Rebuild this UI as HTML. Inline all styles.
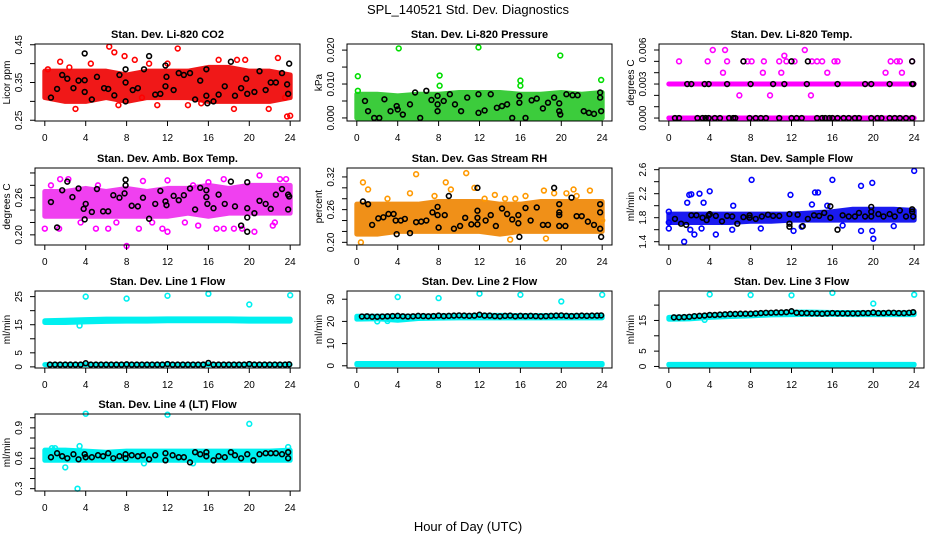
<!DOCTYPE html>
<html><head><meta charset="utf-8">
<style>
html,body{margin:0;padding:0;background:#fff;}
svg{display:block;font-family:"Liberation Sans",Arial,sans-serif;}
</style></head>
<body>
<svg id="chart" width="936" height="540" viewBox="0 0 936 540" xmlns="http://www.w3.org/2000/svg">
<rect x="0" y="0" width="936" height="540" fill="#fff"/>
<text x="468" y="14" text-anchor="middle" font-size="13">SPL_140521  Std. Dev. Diagnostics</text>
<text x="468" y="531" text-anchor="middle" font-size="13">Hour of Day (UTC)</text>
</svg>
<script>
// ---- shared data ----
const bandHours=[0,2,4,6,8,10,12,14,16,18,20,22,24];
const rowHours=[0.5,1,1.5,2,2.5,3,3.5,4,4.5,5,5.5,6,6.5,7,7.5,8,8.5,9,9.5,10,10.5,11,11.5,12,12.5,13,13.5,14,14.5,15,15.5,16,16.5,17,17.5,18,18.5,19,19.5,20,20.5,21,21.5,22,22.5,23,23.5,23.9];
const xTicks=[0,4,8,12,16,20,24];

// ---- P1 CO2 ----
const co2BandLo=[0.31,0.30,0.30,0.31,0.30,0.31,0.31,0.31,0.30,0.30,0.30,0.30,0.31];
const co2BandHi=[0.38,0.38,0.38,0.38,0.37,0.38,0.38,0.38,0.39,0.39,0.38,0.38,0.37];
const co2PtX=[1.5,3,6.3,6.8,7.2,7.8,8.8,10.2,11,13,14,15.3,17,18.5,18.8,19.6,21.9,22.8,23.5,23.7,24,0.3,2.4,9.5,12,4.5];
const co2PtY=[0.405,0.28,0.445,0.43,0.29,0.42,0.41,0.40,0.29,0.44,0.29,0.295,0.41,0.28,0.41,0.41,0.28,0.415,0.31,0.26,0.262,0.385,0.39,0.31,0.40,0.40];
const co2BkX=[0.6,1.2,1.7,2.2,2.8,3.3,3.9,3.9,3.9,4.6,5.1,5.8,6.2,6.8,7.3,7.9,7.9,7.9,8.6,9.1,9.7,10.2,10.8,11.3,11.8,11.9,11.8,12.6,13.1,13.6,14.2,14.7,15.2,15.8,15.8,15.9,16.5,17,17.6,18.2,18.6,19.2,19.7,19.8,20.5,21,21.6,22.1,22.6,23.2,23.7,23.8,23.9];
const co2BkY=[0.31,0.333,0.37,0.36,0.335,0.355,0.427,0.356,0.325,0.305,0.365,0.335,0.333,0.316,0.37,0.385,0.35,0.30,0.33,0.335,0.385,0.42,0.318,0.32,0.395,0.365,0.34,0.33,0.375,0.37,0.375,0.305,0.355,0.385,0.315,0.295,0.30,0.318,0.34,0.405,0.315,0.335,0.36,0.32,0.325,0.38,0.33,0.35,0.35,0.375,0.345,0.32,0.40];

// ---- P2 Pressure ----
const presBandLo=[0,0,0,0,0,0,0,0,0,0,0,0,0];
const presBandHi=[0.007,0.007,0.0065,0.007,0.007,0.0075,0.0075,0.0075,0.007,0.007,0.0075,0.007,0.0075];
const presPtX=[0.1,0.1,4.1,8.1,8.1,11.9,16,16,19.9,23.9];
const presPtY=[0.0123,0.008,0.0205,0.0125,0.0095,0.0208,0.011,0.0095,0.0184,0.0112];
const presBkX=[0.8,1.1,1.7,2.2,2.7,3.3,3.9,4,4.5,5.2,5.7,6.2,6.8,7.3,7.9,7.9,7.9,8.5,9.1,9.6,10.2,10.8,11.9,11.9,12.5,13.1,13.7,14.2,14.7,15.2,15.9,15.9,16.5,17.1,17.6,18.2,18.7,19.3,19.8,19.8,19.9,20.5,21.1,21.6,22.2,22.7,23.2,23.8,23.8,23.9];
const presBkY=[0.005,0.002,0,0,0.0055,0.002,0.0035,0.0025,0.001,0.004,0.0075,0,0.008,0.0053,0.0065,0.004,0.002,0.005,0.007,0.004,0.002,0.006,0.007,0.0015,0.0022,0.007,0.003,0.0035,0.004,0,0.0065,0.0045,0,0.0052,0.0057,0.0028,0.0045,0.006,0.0043,0.002,0.001,0.007,0.0067,0.0067,0.002,0.0015,0.0012,0.0075,0.006,0.002];

// ---- P3 Li-820 Temp ----
const tempBandLo=[0,0,0,0,0,0,0,0,0,0,0,0,0];
const tempBandHi=[0,0,0,0,0,0,0,0,0,0,0,0,0];
const tempBand2Lo=[0.003,0.003,0.003,0.003,0.003,0.003,0.003,0.003,0.003,0.003,0.003,0.003,0.003];
const tempBand2Hi=[0.003,0.003,0.003,0.003,0.003,0.003,0.003,0.003,0.003,0.003,0.003,0.003,0.003];
const tempPtX=[1,3.8,4.3,5.3,5.5,5.7,6.9,7.3,7.7,8.1,9.2,9.3,9.9,10.8,11,11.3,11.5,12.3,13.3,13.9,14,14.5,15,15.5,16.2,16.5,21.2,21.7,22.3,22.6,22.8,23.8];
const tempPtY=[0.005,0.005,0.006,0.004,0.006,0.005,0.002,0.005,0.005,0.005,0.004,0.005,0.002,0.005,0.004,0.0055,0.005,0.005,0.006,0.002,0.005,0.005,0.005,0.004,0.005,0.005,0.004,0.005,0.005,0.005,0.004,0.005];
const tempBkX=[1.8,2.2,3.5,3.9,5.7,8,10.2,11.3,13.5,16.5,19.2,19.8,21.6,23.8,23.9,7.3,12,13.6,23.8,0.6,1,2.8,3.3,3.6,3.9,4.5,5,5.9,6.3,6.5,7.9,8.5,9,9.5,10.8,12,12.5,13,14.5,15,15.3,15.7,16,16.5,17.1,17.6,18.2,18.6,19.8,20.4,20.8,21.6,22.1,22.6,23.2,23.8];
const tempBkY=[0.003,0.003,0.003,0.003,0.003,0.003,0.003,0.003,0.003,0.003,0.003,0.003,0.003,0.003,0.003,0.005,0.005,0.005,0.005,0,0,0,0,0,0,0,0,0,0,0,0,0,0,0,0,0,0,0,0,0,0,0,0,0,0,0,0,0,0,0,0,0,0,0,0,0];

// ---- P4 Amb Box Temp ----
const ambBandLo=[0.23,0.23,0.23,0.23,0.23,0.23,0.23,0.235,0.23,0.235,0.235,0.235,0.235];
const ambBandHi=[0.27,0.27,0.275,0.27,0.275,0.27,0.275,0.275,0.28,0.275,0.28,0.28,0.28];
const ambPtX=[0,1.5,0.6,2.3,3.5,5,5.2,6.2,7,8,9.2,9.6,10.5,11.5,12,12,13.7,14.5,15,16,16.8,17.5,17.5,18.5,19.3,20.5,21,22.3,23,23.6,22.5,1.4];
const ambPtY=[0.21,0.29,0.28,0.29,0.22,0.21,0.28,0.21,0.22,0.182,0.21,0.287,0.22,0.21,0.205,0.288,0.22,0.28,0.215,0.285,0.21,0.21,0.29,0.21,0.21,0.205,0.296,0.215,0.29,0.29,0.22,0.21];
const ambBkX=[0.6,1.2,1.7,2.2,2.7,3.3,3.8,3.9,4,4.6,5.1,5.7,6.2,6.7,7.3,7.9,7.9,7.8,8.5,9.1,9.6,10.2,10.8,11.3,11.8,11.9,12.6,13.1,13.6,14.2,14.7,15.2,15.8,15.8,15.9,16.5,17,17.6,18.2,18.6,19.2,19.8,19.8,19.8,19.8,20.5,21,21.6,22.1,22.6,23.2,23.8,23.8,23.9];
const ambBkY=[0.253,0.212,0.272,0.286,0.261,0.275,0.242,0.225,0.25,0.237,0.274,0.238,0.238,0.264,0.26,0.289,0.28,0.267,0.247,0.246,0.26,0.226,0.25,0.271,0.254,0.248,0.263,0.256,0.264,0.275,0.241,0.276,0.272,0.261,0.25,0.243,0.265,0.25,0.286,0.246,0.215,0.285,0.243,0.228,0.205,0.235,0.255,0.25,0.242,0.265,0.274,0.265,0.241,0.262];

// ---- P5 Gas Stream RH ----
const rhBandLo=[0.215,0.215,0.22,0.22,0.22,0.22,0.22,0.215,0.22,0.22,0.22,0.22,0.22];
const rhBandHi=[0.27,0.27,0.27,0.27,0.275,0.275,0.275,0.27,0.27,0.275,0.275,0.275,0.275];
const rhPtX=[0.4,0.6,1.1,3,5.2,5.8,8.7,9.2,10.7,11.5,13.5,15,15.5,16.5,18.3,18.5,19.3,20.5,21.2,22.8,24,7.6,12.5,14.5,21.5];
const rhPtY=[0.20,0.31,0.297,0.28,0.29,0.325,0.31,0.297,0.327,0.30,0.287,0.205,0.28,0.285,0.295,0.207,0.29,0.29,0.297,0.295,0.24,0.285,0.28,0.28,0.285];
const rhBkX=[0.6,1.1,1.5,2.1,2.6,3.1,3.6,3.8,3.9,4.3,4.7,5.2,5.8,6.3,6.8,7.4,7.9,7.9,8,8.6,9,9.5,10.1,10.6,11.2,11.8,11.8,11.8,11.8,12.6,13.1,13.6,14.2,14.7,15.2,15.8,15.8,15.9,16.5,17,17.6,18.2,18.7,19.3,19.8,19.8,19.8,19.8,20.4,21,21.5,22,22.6,23.2,23.8,23.8,23.8,23.9];
const rhBkY=[0.275,0.27,0.232,0.244,0.246,0.252,0.252,0.24,0.215,0.24,0.243,0.217,0.237,0.238,0.24,0.255,0.265,0.25,0.227,0.25,0.285,0.225,0.23,0.245,0.233,0.258,0.245,0.233,0.30,0.24,0.25,0.23,0.262,0.252,0.242,0.25,0.235,0.21,0.263,0.24,0.264,0.232,0.232,0.30,0.255,0.27,0.25,0.23,0.23,0.282,0.248,0.248,0.238,0.232,0.27,0.255,0.225,0.21];

// ---- P6 Sample Flow ----
const sfBandLo=[1.72,1.72,1.72,1.72,1.74,1.74,1.76,1.76,1.76,1.76,1.76,1.76,1.76];
const sfBandHi=[1.86,1.86,1.86,1.86,1.86,1.86,1.86,1.88,1.90,1.94,1.94,1.94,1.92];
const sfPtX=[0,0,0,1.5,1.8,2,2.2,2.5,2.1,3,3.4,3.2,4,4.6,6.3,6.2,8.1,9,11.9,12.2,14.3,14.6,14,15.5,16,18.8,18.8,19.9,19.9,20,22,24,13,17];
const sfPtY=[1.72,1.90,1.62,1.40,2.05,2.18,2.19,1.52,1.6,2.2,2.05,1.62,2.24,1.52,2.00,1.60,2.43,1.62,2.18,1.58,2.22,2.22,2.02,2.0,2.43,2.33,1.58,2.38,1.58,1.45,1.66,2.58,1.65,1.67];
const sfBkX=[0.6,1.2,1.7,2.2,2.7,3.3,3.7,3.9,4,4.6,5.2,5.7,6.2,6.7,7.3,7.9,7.9,8.5,9.1,9.7,10.2,10.8,11.8,11.8,11.8,12.6,13.1,13.6,14.2,14.7,15.2,15.8,15.8,16.5,17,17.6,18.2,18.6,19.2,19.8,19.8,19.8,20.5,21,21.6,22.1,22.6,23.2,23.8,23.8,23.9];
const sfBkY=[1.78,1.7,1.68,1.84,1.84,1.8,1.76,1.84,1.86,1.83,1.74,1.83,1.82,1.7,1.81,1.84,1.8,1.78,1.82,1.85,1.83,1.83,1.86,1.7,1.65,1.85,1.66,1.78,1.84,1.83,1.88,1.99,1.8,1.6,1.84,1.82,1.82,1.88,1.82,1.98,1.9,1.82,1.86,1.82,1.86,1.82,1.92,1.82,1.94,1.9,1.82];

// ---- P7 Line 1 Flow ----
const l1BandLo=[15.8,15.8,16,16.2,16.3,16.3,16.4,16.4,16.4,16.4,16.3,16.3,16.3];
const l1BandHi=[16.4,16.6,16.8,17,17,17,17.1,17.1,17.1,17.1,17,17,17];
const l1ZeroLo=[0.8,0.8,0.8,0.8,0.8,0.8,0.8,0.8,0.8,0.8,0.8,0.8,0.8];
const l1ZeroHi=[0.8,0.8,0.8,0.8,0.8,0.8,0.8,0.8,0.8,0.8,0.8,0.8,0.8];
const l1PtX=[3.4,4,8,12,16,20,24];
const l1PtY=[14.7,25,24.3,25.3,26,22.2,25.5];
const l1BkY=[0.8,0.8,0.8,0.8,0.8,0.8,0.8,1.3,0.8,0.8,0.8,0.8,0.8,0.8,0.8,0.9,0.8,0.8,0.8,0.8,0.8,0.8,0.8,1.0,0.8,0.8,0.8,0.8,0.8,0.8,0.8,1.4,0.8,0.8,0.8,0.8,0.8,0.8,0.8,1.0,0.8,0.8,0.8,0.8,0.8,0.8,0.8,0.9];

// ---- P8 Line 2 Flow ----
const l2BandLo=[21,21.2,20.5,21.3,21.5,21.6,21.6,21.6,21.6,21.6,21.6,21.6,21.6];
const l2BandHi=[22.3,22.3,22.3,22.3,22.5,22.5,22.7,22.7,22.6,22.6,22.6,22.6,22.6];
const l2ZeroLo=[0.5,0.5,0.5,0.5,0.5,0.5,0.5,0.5,0.5,0.5,0.5,0.5,0.5];
const l2ZeroHi=[1.0,1.0,1.0,1.0,1.0,1.0,1.0,1.0,1.0,1.0,1.0,1.0,1.0];
const l2PtX=[2,3,4,8,12,16,20,24];
const l2PtY=[20,20.2,31,30.5,32.5,32,29,32];
const l2BkY=[22.2,22.3,22.1,22.1,22.2,22.3,22.4,22.5,22.3,22.2,22.3,22.5,22.4,22.3,22.4,22.6,22.4,22.5,22.6,22.7,22.6,22.5,22.6,23.0,22.6,22.6,22.4,22.3,22.5,22.6,22.3,22.5,22.4,22.5,22.4,22.3,22.4,22.5,22.6,22.7,22.5,22.4,22.5,22.6,22.5,22.6,22.6,22.7];

// ---- P9 Line 3 Flow ----
const l3BandLo=[15.4,15.5,16,16.3,16.5,16.8,16.9,17,17,16.9,16.9,16.9,16.9];
const l3BandHi=[16,16.2,16.6,17,17.2,17.5,17.7,17.7,17.6,17.6,17.5,17.5,17.5];
const l3ZeroLo=[0.5,0.5,0.5,0.5,0.5,0.5,0.5,0.5,0.5,0.5,0.5,0.5,0.5];
const l3ZeroHi=[0.7,0.7,0.7,0.7,0.7,0.7,0.7,0.7,0.7,0.7,0.7,0.7,0.7];
const l3PtX=[3.5,4,8,12,16,20,24];
const l3PtY=[15.2,23.5,23.3,23.2,24,20.5,23.4];
const l3BkY=[16.0,16.0,16.1,16.2,16.4,16.5,16.6,16.8,16.8,16.9,17.0,17.1,17.1,17.2,17.2,17.2,17.3,17.4,17.5,17.5,17.6,17.6,17.7,18.0,17.5,17.4,17.4,17.3,17.3,17.2,17.3,17.4,17.3,17.3,17.3,17.3,17.3,17.4,17.4,17.6,17.4,17.4,17.5,17.5,17.4,17.4,17.5,17.7];

// ---- P10 Line 4 (LT) Flow ----
const l4BandLo=[0.58,0.58,0.58,0.58,0.58,0.58,0.58,0.58,0.58,0.58,0.58,0.58,0.58];
const l4BandHi=[0.68,0.68,0.67,0.66,0.67,0.67,0.67,0.67,0.67,0.67,0.67,0.67,0.68];
const l4PtX=[2,3.2,3.4,4,9.7,12,14.5,20,23.8,1,0.7];
const l4PtY=[0.51,0.3,0.72,1.04,0.55,1.03,0.55,0.94,0.71,0.7,0.7];
const l4BkX=[0.6,1.2,1.7,2.2,2.8,3.3,3.9,4,4.6,5.2,5.7,6.2,6.7,7.3,7.9,7.9,8.5,9.1,9.6,10.2,10.8,11.8,11.8,12.5,13.1,13.6,14.2,14.7,15.2,15.8,15.8,16.5,17,17.6,18.2,18.6,19.2,19.8,20.4,21,21.6,22.1,22.6,23.2,23.8,23.8];
const l4BkY=[0.61,0.65,0.62,0.6,0.64,0.59,0.64,0.61,0.61,0.63,0.62,0.65,0.6,0.62,0.64,0.6,0.63,0.62,0.63,0.59,0.63,0.65,0.58,0.63,0.61,0.61,0.56,0.66,0.64,0.66,0.62,0.58,0.62,0.61,0.66,0.63,0.6,0.64,0.58,0.64,0.65,0.65,0.65,0.64,0.66,0.6];

// ---- y-axis ticks ----
const co2Ticks=[0.25,0.30,0.35,0.40,0.45], co2Labels=['0.25','','0.35','','0.45'];
const presTicks=[0,0.005,0.01,0.015,0.02], presLabels=['0.000','','0.010','','0.020'];
const tempTicks=[0,0.001,0.002,0.003,0.004,0.005,0.006], tempLabels=['0.000','','','0.003','','','0.006'];
const ambTicks=[0.20,0.22,0.24,0.26,0.28,0.30], ambLabels=['0.20','','','0.26','',''];
const rhTicks=[0.20,0.22,0.24,0.26,0.28,0.30,0.32], rhLabels=['0.20','','','0.26','','','0.32'];
const sfTicks=[1.4,1.6,1.8,2.0,2.2,2.4,2.6], sfLabels=['1.4','','1.8','','2.2','','2.6'];
const l1Ticks=[0,5,10,15,20,25], l1Labels=['0','5','','15','','25'];
const l2Ticks=[0,10,20,30], l2Labels=['0','10','20','30'];
const l3Ticks=[0,5,10,15,20], l3Labels=['0','5','','15',''];
const l4Ticks=[0.3,0.4,0.5,0.6,0.7,0.8,0.9,1.0], l4Labels=['0.3','','','0.6','','','0.9',''];

// ---- panel layout ----
const panels=[
 {key:'li820-co2',title:'Stan. Dev. Li-820 CO2',ylab:'Licor ppm',c:0,r:0,dom:[0.248,0.452],ticks:co2Ticks,labels:co2Labels,color:'#ff0000',band:'#f01818',bands:[[co2BandLo,co2BandHi]],px:co2PtX,py:co2PtY,bx:co2BkX,by:co2BkY},
 {key:'li820-pressure',title:'Stan. Dev. Li-820 Pressure',ylab:'kPa',c:1,r:0,dom:[-0.0009,0.0218],ticks:presTicks,labels:presLabels,color:'#00dd00',band:'#3ccc3c',bands:[[presBandLo,presBandHi]],px:presPtX,py:presPtY,bx:presBkX,by:presBkY},
 {key:'li820-temp',title:'Stan. Dev. Li-820 Temp.',ylab:'degrees C',c:2,r:0,dom:[-0.00026,0.00653],ticks:tempTicks,labels:tempLabels,color:'#ff00ff',band:'#ff00ff',bands:[[tempBandLo,tempBandHi],[tempBand2Lo,tempBand2Hi]],px:tempPtX,py:tempPtY,bx:tempBkX,by:tempBkY},
 {key:'amb-box-temp',title:'Stan. Dev. Amb. Box Temp.',ylab:'degrees C',c:0,r:1,dom:[0.1836,0.308],ticks:ambTicks,labels:ambLabels,color:'#ff00ff',band:'#f040f0',bands:[[ambBandLo,ambBandHi]],px:ambPtX,py:ambPtY,bx:ambBkX,by:ambBkY},
 {key:'gas-stream-rh',title:'Stan. Dev. Gas Stream RH',ylab:'percent',c:1,r:1,dom:[0.1951,0.3364],ticks:rhTicks,labels:rhLabels,color:'#ff9900',band:'#f09018',bands:[[rhBandLo,rhBandHi]],px:rhPtX,py:rhPtY,bx:rhBkX,by:rhBkY},
 {key:'sample-flow',title:'Stan. Dev. Sample Flow',ylab:'ml/min',c:2,r:1,dom:[1.345,2.628],ticks:sfTicks,labels:sfLabels,color:'#0000ff',band:'#1a1af0',bands:[[sfBandLo,sfBandHi]],px:sfPtX,py:sfPtY,bx:sfBkX,by:sfBkY},
 {key:'line1-flow',title:'Stan. Dev. Line 1 Flow',ylab:'ml/min',c:0,r:2,dom:[-0.4,27],ticks:l1Ticks,labels:l1Labels,color:'#00f0f0',band:'#00f0f0',bands:[[l1BandLo,l1BandHi],[l1ZeroLo,l1ZeroHi]],px:l1PtX,py:l1PtY,bx:rowHours,by:l1BkY},
 {key:'line2-flow',title:'Stan. Dev. Line 2 Flow',ylab:'ml/min',c:1,r:2,dom:[-1,33.7],ticks:l2Ticks,labels:l2Labels,color:'#00f0f0',band:'#00f0f0',bands:[[l2BandLo,l2BandHi],[l2ZeroLo,l2ZeroHi]],px:l2PtX,py:l2PtY,bx:rowHours,by:l2BkY},
 {key:'line3-flow',title:'Stan. Dev. Line 3 Flow',ylab:'ml/min',c:2,r:2,dom:[-0.5,24.6],ticks:l3Ticks,labels:l3Labels,color:'#00f0f0',band:'#00f0f0',bands:[[l3BandLo,l3BandHi],[l3ZeroLo,l3ZeroHi]],px:l3PtX,py:l3PtY,bx:rowHours,by:l3BkY},
 {key:'line4-flow',title:'Stan. Dev. Line 4 (LT) Flow',ylab:'ml/min',c:0,r:3,dom:[0.277,1.037],ticks:l4Ticks,labels:l4Labels,color:'#00f0f0',band:'#00f0f0',bands:[[l4BandLo,l4BandHi]],px:l4PtX,py:l4PtY,bx:l4BkX,by:l4BkY}
];
const colLeft=[35,347,659], rowTop=[44,168,291,414], W=265, H=77;
const NS='http://www.w3.org/2000/svg';
const svg=document.getElementById('chart');
function el(tag){return document.createElementNS(NS,tag);}

panels.forEach(p=>{
  const L=colLeft[p.c], T=rowTop[p.r], B=T+H, R=L+W;
  const sx=v=>L+(v+0.96)/25.92*W;
  const sy=v=>B-(v-p.dom[0])/(p.dom[1]-p.dom[0])*H;
  const g=el('g');
  
  
  svg.appendChild(g);

  // bands
  p.bands.forEach((bd,bi)=>{
    const lo=bd[0], hi=bd[1];
    let pts=bandHours.map((h,i)=>sx(h)+','+sy(hi[i]));
    pts=pts.concat(bandHours.map((h,i)=>sx(h)+','+sy(lo[i])).reverse());
    const poly=el('polygon');
    poly.setAttribute('points',pts.join(' '));
    poly.setAttribute('fill',p.band);
    poly.setAttribute('stroke',p.band);
    poly.setAttribute('stroke-width','5');
    poly.setAttribute('stroke-linejoin','round');
    
    
    g.appendChild(poly);
  });
  // colored points
  p.px.forEach((x,i)=>{
    const c=el('circle');
    c.setAttribute('cx',sx(x));c.setAttribute('cy',sy(p.py[i]));c.setAttribute('r','2.4');
    c.setAttribute('fill','none');c.setAttribute('stroke',p.color);c.setAttribute('stroke-width','1.6');
    
    
    g.appendChild(c);
  });
  // black points
  p.bx.forEach((x,i)=>{
    const c=el('circle');
    c.setAttribute('cx',sx(x));c.setAttribute('cy',sy(p.by[i]));c.setAttribute('r','2.4');
    c.setAttribute('fill','none');c.setAttribute('stroke','#000');c.setAttribute('stroke-width','1.6');
    
    
    g.appendChild(c);
  });
  // box
  const box=el('rect');
  box.setAttribute('x',L);box.setAttribute('y',T);box.setAttribute('width',W);box.setAttribute('height',H);
  box.setAttribute('fill','none');box.setAttribute('stroke','#000');box.setAttribute('stroke-width','1');
  
  
  g.appendChild(box);
  // title
  const t=el('text');
  t.setAttribute('x',(L+R)/2);t.setAttribute('y',T-6);t.setAttribute('text-anchor','middle');
  t.setAttribute('font-size','11');t.setAttribute('font-weight','bold');
  t.textContent=p.title;
  
  
  g.appendChild(t);
  // x axis
  const xl=el('line');
  xl.setAttribute('x1',sx(0));xl.setAttribute('x2',sx(24));xl.setAttribute('y1',B);xl.setAttribute('y2',B);xl.setAttribute('stroke','#000');
  
  
  g.appendChild(xl);
  xTicks.forEach(v=>{
    const tk=el('line');
    tk.setAttribute('x1',sx(v));tk.setAttribute('x2',sx(v));tk.setAttribute('y1',B);tk.setAttribute('y2',B+5);tk.setAttribute('stroke','#000');
    
    
    g.appendChild(tk);
    const lb=el('text');
    lb.setAttribute('x',sx(v));lb.setAttribute('y',B+20);lb.setAttribute('text-anchor','middle');lb.setAttribute('font-size','10');
    lb.textContent=String(v);
    
    
    g.appendChild(lb);
  });
  // y axis
  const yl=el('line');
  yl.setAttribute('x1',L);yl.setAttribute('x2',L);yl.setAttribute('y1',sy(p.ticks[0]));yl.setAttribute('y2',sy(p.ticks[p.ticks.length-1]));yl.setAttribute('stroke','#000');
  
  
  g.appendChild(yl);
  p.ticks.forEach((v,i)=>{
    const y=sy(v);
    const tk=el('line');
    tk.setAttribute('x1',L-5);tk.setAttribute('x2',L);tk.setAttribute('y1',y);tk.setAttribute('y2',y);tk.setAttribute('stroke','#000');
    
    
    g.appendChild(tk);
    if(p.labels[i]){
      const lb=el('text');
      lb.setAttribute('x',L-13);lb.setAttribute('y',y);lb.setAttribute('text-anchor','middle');lb.setAttribute('font-size','10');
      lb.setAttribute('transform','rotate(-90 '+(L-13)+' '+y+')');
      lb.textContent=p.labels[i];
      
      
      g.appendChild(lb);
    }
  });
  const yt=el('text');
  const yc=(T+B)/2;
  yt.setAttribute('x',L-25);yt.setAttribute('y',yc);yt.setAttribute('text-anchor','middle');yt.setAttribute('font-size','10');
  yt.setAttribute('transform','rotate(-90 '+(L-25)+' '+yc+')');
  yt.textContent=p.ylab;
  
  
  g.appendChild(yt);
});
</script>
</body></html>
